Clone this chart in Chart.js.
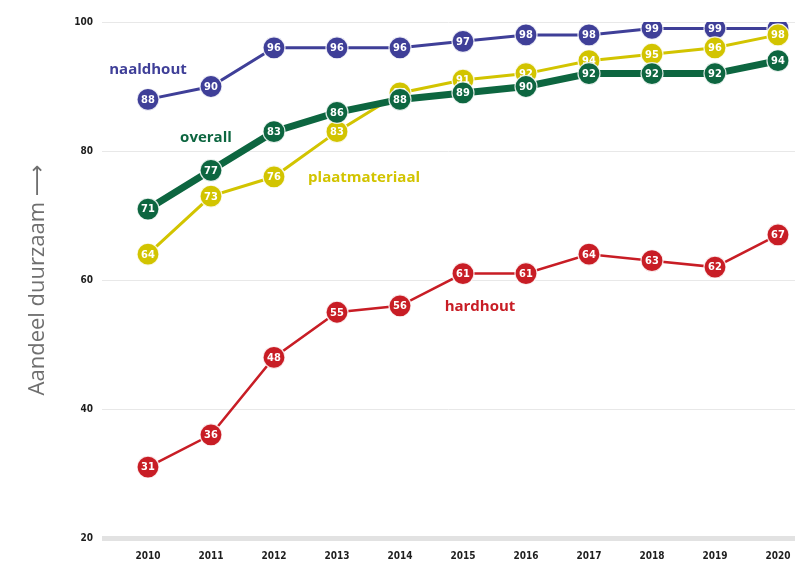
<!DOCTYPE html>
<html>
<head>
<meta charset="utf-8">
<script src="https://cdn.jsdelivr.net/npm/chart.js@4/dist/chart.umd.min.js"></script>
<style>
  html, body { margin: 0; padding: 0; background: #fff; overflow: hidden; }
  canvas { display: block; }
</style>
</head>
<body>
<canvas id="chart" width="795" height="562"></canvas>
<script>
var years = [2010, 2011, 2012, 2013, 2014, 2015, 2016, 2017, 2018, 2019, 2020];
var naaldhout = [88, 90, 96, 96, 96, 97, 98, 98, 99, 99, 99];
var overall = [71, 77, 83, 86, 88, 89, 90, 92, 92, 92, 94];
var plaatmateriaal = [64, 73, 76, 83, 89, 91, 92, 94, 95, 96, 98];
var hardhout = [31, 36, 48, 55, 56, 61, 61, 64, 63, 62, 67];
var y_ticks = [20, 40, 60, 80, 100];

// series names are written next to the lines, anchored in data units
var series_labels = [
    {text: 'naaldhout', x: 2010, y: 92.6, color: '#3f3f98'},
    {text: 'overall', x: 2010.92, y: 82.0, color: '#0d6640'},
    {text: 'plaatmateriaal', x: 2013.43, y: 75.8, color: '#d2c400'},
    {text: 'hardhout', x: 2015.27, y: 55.8, color: '#c81d25'}
];

function to_points(values) {
    return values.map(function (v, i) { return {x: years[i], y: v}; });
}

function make_dataset(name, values, color, width) {
    return {
        label: name,
        data: to_points(values),
        borderColor: color,
        backgroundColor: color,
        borderWidth: width,
        pointRadius: 11,
        pointHoverRadius: 11,
        pointBackgroundColor: color,
        pointBorderColor: 'rgba(255,255,255,0.85)',
        pointBorderWidth: 1.2,
        tension: 0
    };
}

// white value inside every marker, drawn right after its own dataset
var value_labels = {
    id: 'value_labels',
    afterDatasetDraw: function (chart, args) {
        var ctx = chart.ctx;
        var ds = chart.data.datasets[args.index];
        ctx.save();
        ctx.fillStyle = '#ffffff';
        ctx.font = 'bold 11px "DejaVu Sans Condensed", "Liberation Sans", sans-serif';
        ctx.textAlign = 'center';
        ctx.textBaseline = 'middle';
        args.meta.data.forEach(function (pt, i) {
            ctx.fillText(String(ds.data[i].y), pt.x, pt.y + 0.5);
        });
        ctx.restore();
    },
    afterDatasetsDraw: function (chart) {
        var ctx = chart.ctx;
        var xs = chart.scales.x, ys = chart.scales.y;
        ctx.save();
        ctx.font = 'bold 15px "Open Sans", "Noto Sans", sans-serif';
        ctx.textAlign = 'center';
        ctx.textBaseline = 'middle';
        series_labels.forEach(function (l) {
            ctx.fillStyle = l.color;
            ctx.fillText(l.text, xs.getPixelForValue(l.x), ys.getPixelForValue(l.y));
        });
        ctx.restore();
    }
};

var tick_font = {family: '"DejaVu Sans Condensed", "Liberation Sans", sans-serif', size: 10, weight: 'bold'};

new Chart(document.getElementById('chart'), {
    type: 'line',
    data: {
        datasets: [
            make_dataset('overall', overall, '#0d6640', 7),
            make_dataset('plaatmateriaal', plaatmateriaal, '#d2c400', 3),
            make_dataset('naaldhout', naaldhout, '#3f3f98', 3),
            make_dataset('hardhout', hardhout, '#c81d25', 2.5)
        ]
    },
    plugins: [value_labels],
    options: {
        responsive: false,
        animation: false,
        layout: {autoPadding: false, padding: {top: 22, right: 0, bottom: 0, left: 0}},
        plugins: {
            legend: {display: false},
            tooltip: {enabled: false}
        },
        scales: {
            x: {
                type: 'linear',
                min: 2009.27,
                max: 2020.27,
                afterBuildTicks: function (scale) {
                    scale.ticks = years.map(function (v) { return {value: v}; });
                },
                afterFit: function (scale) {
                    scale.height = 24;
                    scale.paddingLeft = 0;
                    scale.paddingRight = 0;
                },
                grid: {display: false, drawTicks: false},
                border: {display: false},
                ticks: {
                    color: '#1e1e1e',
                    font: tick_font,
                    padding: 12,
                    maxRotation: 0,
                    callback: function (v) { return String(v); }
                }
            },
            y: {
                min: 20,
                max: 100,
                afterBuildTicks: function (scale) {
                    scale.ticks = y_ticks.map(function (v) { return {value: v}; });
                },
                afterFit: function (scale) { scale.width = 102; },
                grid: {
                    drawTicks: false,
                    color: function (c) { return c.tick && c.tick.value === 20 ? '#e2e2e2' : '#e8e8e8'; },
                    lineWidth: function (c) { return c.tick && c.tick.value === 20 ? 5 : 1; }
                },
                border: {display: false},
                ticks: {
                    color: '#1e1e1e',
                    font: tick_font,
                    padding: 9
                },
                title: {
                    display: true,
                    text: 'Aandeel duurzaam \u27F6',
                    color: '#6f6f6f',
                    font: {family: '"Open Sans", "DejaVu Sans", sans-serif', size: 22, weight: 'normal'},
                    padding: {top: 25, bottom: 0}
                }
            }
        }
    }
});
</script>
</body>
</html>
